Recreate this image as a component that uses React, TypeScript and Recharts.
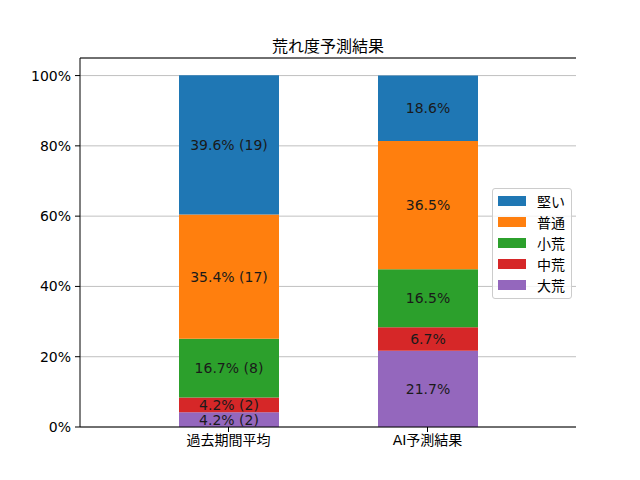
import React from 'react';
import {
  BarChart,
  Bar,
  XAxis,
  YAxis,
  CartesianGrid,
  Legend,
  LabelList,
  ReferenceLine,
} from 'recharts';

const categories = ['過去期間平均', 'AI予測結果'];

// stacked bottom to top
const seriesNames = ['大荒', '中荒', '小荒', '普通', '堅い'];
const seriesColors = ['#9467bd', '#d62728', '#2ca02c', '#ff7f0e', '#1f77b4'];

const pastValues = [4.2, 4.2, 16.7, 35.4, 39.6];
const pastCounts = [2, 2, 8, 17, 19];
const aiValues = [21.7, 6.7, 16.5, 36.5, 18.6];

const yTicks = [0, 20, 40, 60, 80, 100];

const FONT = '"DejaVu Sans", "Noto Sans CJK JP", sans-serif';

const data = categories.map((name, ci) => {
  const row: Record<string, string | number> = { name };
  seriesNames.forEach((s, si) => {
    if (ci === 0) {
      row[s] = pastValues[si];
      row[`${s}_label`] = `${pastValues[si].toFixed(1)}% (${pastCounts[si]})`;
    } else {
      row[s] = aiValues[si];
      row[`${s}_label`] = `${aiValues[si].toFixed(1)}%`;
    }
  });
  return row;
});

const LegendBox = () => (
  <div
    style={{
      border: '1px solid #cccccc',
      borderRadius: 3,
      background: 'rgba(255,255,255,0.8)',
      padding: '1px 6px 3px 5px',
      fontFamily: FONT,
      fontSize: 14,
      color: '#000',
      whiteSpace: 'nowrap',
      width: 'max-content',
    }}
  >
    {[...seriesNames].reverse().map((s, i) => {
      const color = seriesColors[seriesNames.length - 1 - i];
      return (
        <div key={s} style={{ display: 'flex', alignItems: 'center', height: 21 }}>
          <span style={{ width: 28, height: 10, background: color, display: 'inline-block', marginRight: 11, flexShrink: 0 }} />
          <span>{s}</span>
        </div>
      );
    })}
  </div>
);

export default function App() {
  return (
    <div style={{ position: 'absolute', left: 0, top: 0, width: 640, height: 480, background: '#fff', fontFamily: FONT }}>
      <div
        style={{
          position: 'absolute',
          left: 80,
          width: 496,
          top: 33,
          textAlign: 'center',
          fontSize: 16,
          color: '#000',
        }}
      >
        荒れ度予測結果
      </div>
      <BarChart
        width={640}
        height={480}
        data={data}
        margin={{ top: 58, right: 64, bottom: 23, left: 10 }}
        barSize={100}
      >
        <CartesianGrid vertical={false} stroke="#b0b0b0" strokeWidth={0.8} />
        <XAxis
          dataKey="name"
          padding={{ left: 49, right: 49 }}
          height={30}
          tickSize={5}
          tickMargin={3}
          axisLine={{ stroke: '#000' }}
          tickLine={{ stroke: '#000' }}
          tick={{ fill: '#000', fontSize: 14, fontFamily: FONT }}
        />
        <YAxis
          width={70}
          domain={[0, 105]}
          ticks={yTicks}
          tickFormatter={(v) => `${v}%`}
          tickSize={5}
          tickMargin={4}
          axisLine={{ stroke: '#000' }}
          tickLine={{ stroke: '#000' }}
          tick={{ fill: '#000', fontSize: 14, fontFamily: FONT }}
        />
        <YAxis
          yAxisId="frame"
          orientation="right"
          width={0}
          domain={[0, 105]}
          tick={false}
          tickLine={false}
          axisLine={{ stroke: '#000' }}
        />
        <ReferenceLine y={105} stroke="#000" />
        {seriesNames.map((s, i) => (
          <Bar key={s} dataKey={s} stackId="a" fill={seriesColors[i]} isAnimationActive={false}>
            <LabelList
              dataKey={`${s}_label`}
              position="center"
              fill="#1a1a1a"
              style={{ fontSize: 14, fontFamily: FONT }}
            />
          </Bar>
        ))}
        <Legend
          layout="vertical"
          align="center"
          verticalAlign="middle"
          content={() => <LegendBox />}
          wrapperStyle={{ left: 492, top: 188, width: 'auto', height: 'auto' }}
        />
      </BarChart>
    </div>
  );
}
